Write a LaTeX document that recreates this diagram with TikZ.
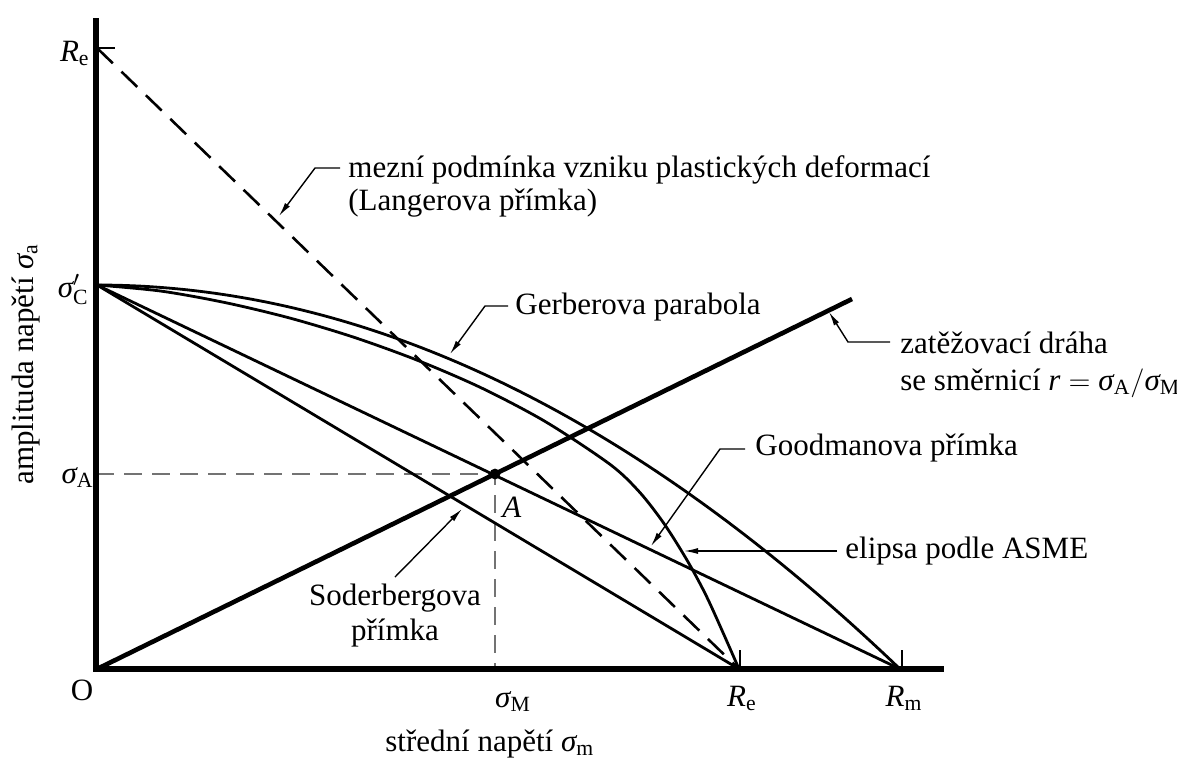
\documentclass[tikz,border=0pt]{standalone}
\usepackage{fontspec}
\setmainfont{Liberation Serif}
\usetikzlibrary{arrows.meta}
\newcommand{\sig}{\textit{σ}}
\begin{document}
\begin{tikzpicture}[x=0.5pt,y=-0.5pt,
  axisline/.style={line width=2.6pt, line join=miter},
  curve/.style={line width=1.4pt},
  loadpath/.style={line width=2.3pt},
  tick/.style={line width=0.7pt},
  leader/.style={line width=0.7pt, -{Latex[length=7pt,width=3pt]}},
  helper/.style={line width=0.8pt, black!55, dash pattern=on 9pt off 5pt},
  langer/.style={line width=1.3pt, dash pattern=on 11pt off 6pt},
  lbl/.style={font=\fontsize{15.5}{17.5}\selectfont, inner sep=0pt},
  ]
\path[use as bounding box] (0,0) rectangle (1177,760);

% key points
\coordinate (O) at (97,669);
\coordinate (SC) at (97,285);
\coordinate (ReX) at (739,669);
\coordinate (RmX) at (900,669);
\coordinate (ReY) at (97,48);
\coordinate (Lend) at (852,299);
\coordinate (A) at (495,474);
\coordinate (Ay) at (96,474);
\coordinate (Ax) at (495,669);
\coordinate (Ytop) at (96,18);
\coordinate (Xend) at (944,669);
\coordinate (Corner) at (96,669);

% helper dashed lines
\draw[helper] (Ay) -- (A) -- (Ax);

% axes
\draw[axisline] (Ytop) -- (Corner) -- (Xend);

% ticks
\coordinate (tReY) at (115,48);
\coordinate (tReYa) at (96,48);
\coordinate (tReXa) at (740,650);
\coordinate (tReXb) at (740,669);
\coordinate (tRmXa) at (902,650);
\coordinate (tRmXb) at (902,669);
\draw[tick] (tReYa) -- (tReY);
\draw[tick] (tReXa) -- (tReXb);
\draw[tick] (tRmXa) -- (tRmXb);

% Langer line
\draw[langer] (ReY) -- (ReX);

% Soderberg and Goodman lines
\draw[curve] (SC) -- (ReX);
\draw[curve] (SC) -- (RmX);

% Gerber parabola
\draw[curve] plot[domain=0:1, samples=90] ({97+803*\x},{669-384*(1-\x*\x)});

% ASME ellipse
\draw[curve] plot[smooth] coordinates {(97,285) (161.1,291.1) (225.2,302.6) (289.3,317.9) (353.4,337.1) (417.5,360.3) (481.6,388.0) (545.7,421.8) (609.8,464.2) (639,491.5) (663.6,523) (687.5,561) (708.6,600.7) (739,669)};

% loading path
\draw[loadpath] (O) -- (Lend);
\fill (A) circle (2.7pt);

% axis labels
\node[lbl, anchor=base east] (lReY) at (90,61) {$\textit{R}_\mathrm{e}$};
\node[lbl, anchor=base east] (lSC) at (89,297) {$\sig'_\mathrm{C}$};
\node[lbl, anchor=base east] (lSA) at (94,483) {$\sig_\mathrm{A}$};
\node[lbl] (lO) at (82,690) {O};
\node[lbl, anchor=base] (lSM) at (513,707) {$\sig_\mathrm{M}$};
\node[lbl, anchor=base] (lReX) at (742,706) {$\textit{R}_\mathrm{e}$};
\node[lbl, anchor=base] (lRmX) at (904,706) {$\textit{R}_\mathrm{m}$};
\node[lbl, anchor=base] (lA) at (512,517) {\textit{A}};
\node[lbl, anchor=base west] (xlab) at (385,751) {střední napětí $\sig_\mathrm{m}$};
\node[lbl, anchor=base, rotate=90] (ylab) at (33,364) {amplituda napětí $\sig_\mathrm{a}$};

% Langer label
\node[lbl, anchor=base west] (lang1) at (348,177) {mezní podmínka vzniku plastických deformací};
\node[lbl, anchor=base west] (lang2) at (348,210) {(Langerova přímka)};
\coordinate (la1) at (340,168);
\coordinate (la2) at (315,168);
\coordinate (la3) at (279,216);
\draw[leader] (la1) -- (la2) -- (la3);

% Gerber label
\node[lbl, anchor=base west] (gerb) at (515,314) {Gerberova parabola};
\coordinate (ga1) at (508,306);
\coordinate (ga2) at (485,306);
\coordinate (ga3) at (450,354);
\draw[leader] (ga1) -- (ga2) -- (ga3);

% loading path label
\node[lbl, anchor=base west] (load1) at (900,353) {zatěžovací dráha};
\node[lbl, anchor=base west] (load2) at (900,390) {se směrnicí $\textit{r} = \sig_\mathrm{A}/\sig_\mathrm{M}$};
\coordinate (lo1) at (890,342);
\coordinate (lo2) at (848,342);
\coordinate (lo3) at (829,312);
\draw[leader] (lo1) -- (lo2) -- (lo3);

% Goodman label
\node[lbl, anchor=base west] (good) at (755,455) {Goodmanova přímka};
\coordinate (go1) at (745,449);
\coordinate (go2) at (720,449);
\coordinate (go3) at (651,546);
\draw[leader] (go1) -- (go2) -- (go3);

% ASME label
\node[lbl, anchor=base west] (asme) at (845,558) {elipsa podle ASME};
\coordinate (as1) at (837,551);
\coordinate (as2) at (684,551);
\draw[leader] (as1) -- (as2);

% Soderberg label
\node[lbl, anchor=base] (sod1) at (395,605) {Soderbergova};
\node[lbl, anchor=base] (sod2) at (395,640) {přímka};
\coordinate (so1) at (395,577);
\coordinate (so2) at (462,509);
\draw[leader] (so1) -- (so2);
\end{tikzpicture}
\end{document}
